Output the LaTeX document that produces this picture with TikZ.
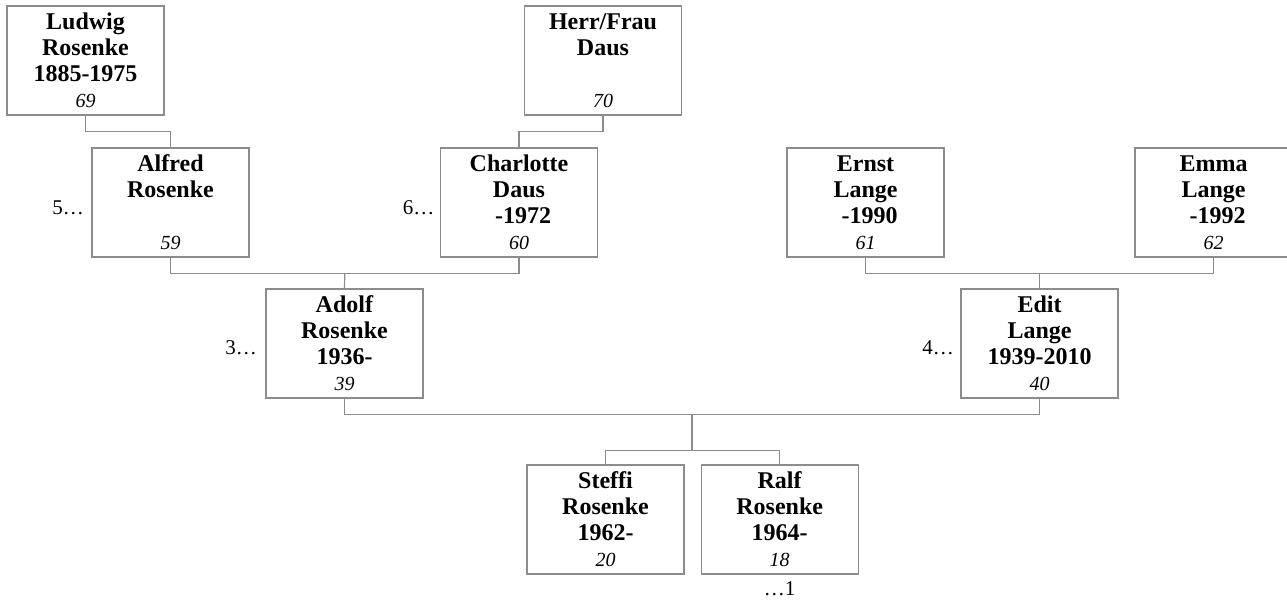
\documentclass[tikz,border=0pt]{standalone}
\usepackage{fontspec}
\setmainfont{Liberation Serif}
\usetikzlibrary{calc}
\usetikzlibrary{positioning}

\newcommand{\person}[4]{\textbf{#1}\\\textbf{#2}\\\mbox{}\textbf{#3}\\{\fontsize{20}{26}\selectfont\itshape #4}}

\begin{document}
\begin{tikzpicture}[x=1pt, y=-1pt, draw=black!45, line width=1.2pt, node distance=16pt, font=\fontsize{24}{26}\selectfont]
    \tikzstyle{block}=[draw=black!45, rectangle, fill=none, minimum width=157pt, minimum height=109pt, text width=150pt, align=center, inner sep=0pt]
    \tikzstyle{gen}=[font=\fontsize{21}{26}\selectfont, inner sep=0pt]
    \useasboundingbox (0,0) rectangle (1287,602);

    % grandparents
    \node[block] (LR) at (85.5,60.5) {\person{Ludwig}{Rosenke}{1885-1975}{69}};
    \node[block] (HD) at (603,60.5) {\person{Herr/Frau}{Daus}{}{70}};

    % parents
    \node[block] (AR) at (170.5,202.5) {\person{Alfred}{Rosenke}{}{59}};
    \node[block] (CD) at (519,202.5) {\person{Charlotte}{Daus}{~-1972}{60}};
    \node[block] (EL) at (865.5,202.5) {\person{Ernst}{Lange}{~-1990}{61}};
    \node[block] (EmL) at (1213.5,202.5) {\person{Emma}{Lange}{~-1992}{62}};

    \node[block] (AdR) at (344.5,343.5) {\person{Adolf}{Rosenke}{1936-}{39}};
    \node[block] (EdL) at (1039.5,343.5) {\person{Edit}{Lange}{1939-2010}{40}};

    % children
    \node[block] (SR) at (605.5,519.5) {\person{Steffi}{Rosenke}{1962-}{20}};
    \node[block, right=of SR] (RR) {\person{Ralf}{Rosenke}{1964-}{18}};

    \draw (LR.south) -- ++(0,16) -| (AR.north);
    \draw (HD.south) -- ++(0,16) -| (CD.north);
    \draw (AR.south) -- ++(0,16) -| (CD.south);
    \draw (EL.south) -- ++(0,16) -| (EmL.south);
    \draw (AdR.south) -- ++(0,16) -| (EdL.south);

    \coordinate (ARCD) at ($(AR.south)!0.5!(CD.south) + (0,16)$);
    \coordinate (ELEmL) at ($(EL.south)!0.5!(EmL.south) + (0,16)$);
    \coordinate (kids) at ($(AdR.south)!0.5!(EdL.south) + (0,16)$);
    \draw (ARCD) -- (AdR.north);
    \draw (ELEmL) -- (EdL.north);
    \draw (kids) -- ++(0,36) coordinate (kidbar);
    \draw (SR.north) |- (kidbar) -| (RR.north);

    \node[gen, left=7pt of AR.west, yshift=-5pt] {5…};
    \node[gen, left=5pt of CD.west, yshift=-5pt] {6…};
    \node[gen, left=8pt of AdR.west, yshift=-4pt] {3…};
    \node[gen, left=6pt of EdL.west, yshift=-4pt] {4…};
    \node[gen, below=6pt of RR.south] {…1};
\end{tikzpicture}
\end{document}
